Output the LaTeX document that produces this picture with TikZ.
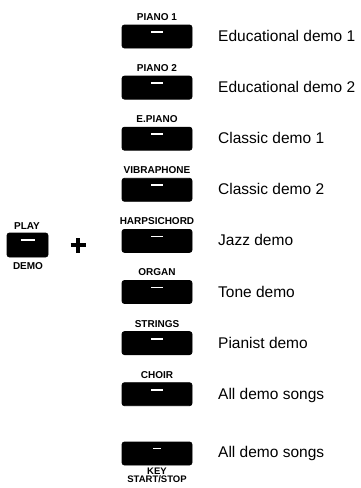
\documentclass[tikz,border=0pt]{standalone}
\usepackage{fontspec}
\setmainfont{Liberation Sans}
\tikzset{
  x=1pt,y=-1pt,
  keybtn/.style={fill=black, draw=black, line width=0.8pt, rounded corners=2.5pt, minimum width=70pt, minimum height=23pt, inner sep=0pt},
  keyglint/.style={white, line width=1.8pt},
  keylabel/.style={font=\fontsize{10}{9}\bfseries\selectfont, inner sep=0pt},
  demotext/.style={font=\fontsize{15.5}{17}\selectfont, anchor=base west, inner sep=0pt},
}
\begin{document}
\begin{tikzpicture}
\useasboundingbox (0,0) rectangle (360,488);
% left PLAY/DEMO button
\node[keybtn, minimum width=41pt, minimum height=24pt] (play) at (27.5,245) {};
\draw[keyglint] ([xshift=-7pt,yshift=5pt]play.center) -- ([xshift=7pt,yshift=5pt]play.center);
\node[keylabel] (playlbl) at (27,226.5) {PLAY};
\node[keylabel] (demolbl) at (28,266.5) {DEMO};
% plus sign
\coordinate (plus) at (78,245);
\draw[line width=3.6pt] ([xshift=-7.5pt]plus) -- ([xshift=7.5pt]plus);
\draw[line width=3.6pt] ([yshift=-7.5pt]plus) -- ([yshift=7.5pt]plus);
% right column of buttons
\foreach \lbl/\txt [count=\k from 0] in {PIANO 1/Educational demo 1, PIANO 2/Educational demo 2, E.PIANO/Classic demo 1, VIBRAPHONE/Classic demo 2, HARPSICHORD/Jazz demo, ORGAN/Tone demo, STRINGS/Pianist demo, CHOIR/All demo songs}{
  \pgfmathsetmacro{\yl}{17+51.1*\k}
  \node[keylabel] (lbl\k) at (157,\yl) {\lbl};
  \node[keybtn] (btn\k) at (157,\yl+19.5) {};
  \draw[keyglint] ([xshift=-6pt,yshift=4.5pt]btn\k.center) -- ([xshift=6pt,yshift=4.5pt]btn\k.center);
  \node[demotext] (txt\k) at (218,\yl+24.5) {\txt};
}
% KEY START/STOP
\node[keybtn] (btnkey) at (157,453.5) {};
\draw[keyglint, line width=1.4pt] ([xshift=-4pt,yshift=5pt]btnkey.center) -- ([xshift=4pt,yshift=5pt]btnkey.center);
\node[demotext] (txtkey) at (218,457.5) {All demo songs};
\node[keylabel, font=\fontsize{9.5}{8.5}\bfseries\selectfont, align=center, anchor=north] (keylbl) at (157,467.5) {KEY\\START/STOP};
\end{tikzpicture}
\end{document}
